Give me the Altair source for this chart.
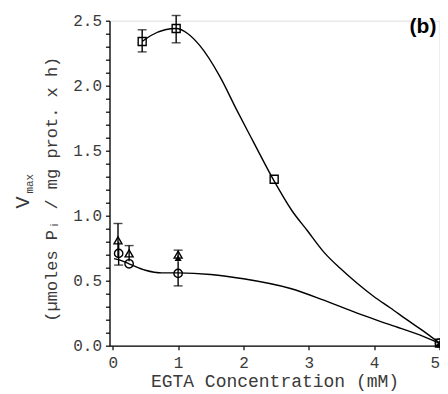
import altair as alt
import pandas as pd

# --- data ---
sq_x = [0.45, 0.97, 2.47, 5.0]
sq_y = [2.34, 2.44, 1.28, 0.02]

tri_x = [0.08, 0.25, 1.0]
tri_y = [0.81, 0.71, 0.70]

trif_x = [1.0, 5.0]
trif_y = [0.675, 0.02]

cir_x = [0.09, 0.25, 1.0, 5.0]
cir_y = [0.71, 0.63, 0.556, 0.02]

err_x = [0.45, 0.97, 0.08, 0.09, 0.25, 1.0, 1.0]
err_lo = [2.26, 2.33, 0.68, 0.62, 0.65, 0.66, 0.46]
err_hi = [2.43, 2.54, 0.94, 0.80, 0.77, 0.735, 0.65]

cap_x = [0.45, 0.45, 0.97, 0.97, 0.08, 0.09, 0.25, 1.0, 1.0]
cap_y = [2.26, 2.43, 2.33, 2.54, 0.94, 0.62, 0.77, 0.735, 0.46]

up_x = [0.45, 0.6, 0.8, 0.97, 1.15, 1.33, 1.64, 1.90, 2.16, 2.46, 2.74, 2.97, 3.23,
        3.48, 3.74, 3.99, 4.25, 4.50, 4.76, 5.0]
up_y = [2.34, 2.39, 2.43, 2.44, 2.40, 2.31, 2.07, 1.81, 1.56, 1.275, 1.04, 0.89, 0.72,
        0.595, 0.48, 0.38, 0.29, 0.20, 0.11, 0.02]

low_x = [0.02, 0.1, 0.25, 0.5, 0.75, 1.0, 1.5, 2.0, 2.72, 3.23, 3.74, 4.25, 4.76, 5.0]
low_y = [0.67, 0.66, 0.63, 0.58, 0.56, 0.56, 0.548, 0.515, 0.44, 0.35, 0.25, 0.16, 0.07, 0.02]

y_tick_values = [round(i * 0.1, 1) for i in range(26)]
x_tick_values = [0, 1, 2, 3, 4, 5]

FONT = "Liberation Mono"
TXT = "#3a3a3a"

xs = alt.Scale(domain=[-0.05, 5.0], nice=False, zero=False)
ys = alt.Scale(domain=[0, 2.5], nice=False)

x_axis = alt.Axis(
    values=x_tick_values, title="EGTA Concentration (mM)", format="d",
    grid=False, tickSize=4, labelPadding=4.5, labelFontSize=16, labelFont=FONT,
    titleFont=FONT, titleFontSize=18, titleFontWeight="normal",
    titleBaseline="alphabetic", titleY=41, labelColor=TXT, titleColor=TXT,
    domainColor="black", tickColor="black", domainWidth=1.3, tickWidth=1.2)
y_axis = alt.Axis(
    values=y_tick_values, labelOverlap=False,
    labelExpr="abs(datum.value*2 - round(datum.value*2)) < 0.001 ? format(datum.value, '.1f') : ''",
    title="(µmoles Pᵢ / mg prot. x h)", grid=False, tickSize=4, labelPadding=4,
    labelFontSize=16, labelFont=FONT, titleFont=FONT, titleFontSize=17,
    titleFontWeight="normal", titleAngle=270, titleAlign="center",
    titleBaseline="middle", titleX=-58.5, titleY=168,
    labelColor=TXT, titleColor=TXT, domainColor="black", tickColor="black",
    domainWidth=1.3, tickWidth=1.2)

X = alt.X("x:Q", scale=xs, axis=x_axis)
Y = alt.Y("y:Q", scale=ys, axis=y_axis)

up = pd.DataFrame({"x": up_x, "y": up_y})
low = pd.DataFrame({"x": low_x, "y": low_y})
sq = pd.DataFrame({"x": sq_x, "y": sq_y})
tri = pd.DataFrame({"x": tri_x, "y": tri_y})
trif = pd.DataFrame({"x": trif_x, "y": trif_y})
cir = pd.DataFrame({"x": cir_x, "y": cir_y})
err = pd.DataFrame({"x": err_x, "y": err_lo, "hi": err_hi})
caps = pd.DataFrame({"x": cap_x, "y": cap_y})

l_up = alt.Chart(up).mark_line(color="black", strokeWidth=1.4, interpolate="monotone").encode(x=X, y=Y)
l_low = alt.Chart(low).mark_line(color="black", strokeWidth=1.4, interpolate="monotone").encode(x=X, y=Y)
e_rule = alt.Chart(err).mark_rule(color="black", strokeWidth=1.4).encode(x=X, y=Y, y2="hi:Q")
e_cap = alt.Chart(caps).mark_tick(color="black", orient="horizontal", size=9, thickness=1.4).encode(x=X, y=Y)
p_sq = alt.Chart(sq).mark_point(shape="square", size=64, filled=False, color="black", strokeWidth=1.4, opacity=1).encode(x=X, y=Y)
p_tri = alt.Chart(tri).mark_point(shape="triangle-up", size=64, filled=False, color="black", strokeWidth=1.4, opacity=1).encode(x=X, y=Y)
p_trif = alt.Chart(trif).mark_point(shape="triangle-up", size=50, filled=True, color="black", opacity=1).encode(x=X, y=Y)
p_cir = alt.Chart(cir).mark_point(shape="circle", size=70, filled=False, color="black", strokeWidth=1.4, opacity=1).encode(x=X, y=Y)

vmax_v = alt.Chart(pd.DataFrame({"t": ["V"]})).mark_text(
    font=FONT, fontSize=20, angle=270, align="center", baseline="middle", color=TXT
).encode(text="t:N", x=alt.value(-87), y=alt.value(181.8))
vmax_s = alt.Chart(pd.DataFrame({"t": ["max"]})).mark_text(
    font=FONT, fontSize=11, angle=270, align="center", baseline="middle", color=TXT
).encode(text="t:N", x=alt.value(-80), y=alt.value(163))
panel = alt.Chart(pd.DataFrame({"t": ["(b)"]})).mark_text(
    font="Liberation Sans", fontSize=21, fontWeight="bold", align="center", baseline="middle", color="black"
).encode(text="t:N", x=alt.value(313.5), y=alt.value(6.5))

chart = alt.layer(
    l_up, l_low, e_rule, e_cap, p_sq, p_tri, p_trif, p_cir, vmax_v, vmax_s, panel
).properties(
    width=330, height=325,
    autosize=alt.AutoSizeParams(type="none"),
    padding={"left": 101.5, "top": 12.7, "right": 0.5, "bottom": 48},
).configure_view(stroke=None).configure_axis(labelOverlap=False).configure(background="white")

chart.save("out.html", embed_options={"renderer": "svg", "actions": False})
